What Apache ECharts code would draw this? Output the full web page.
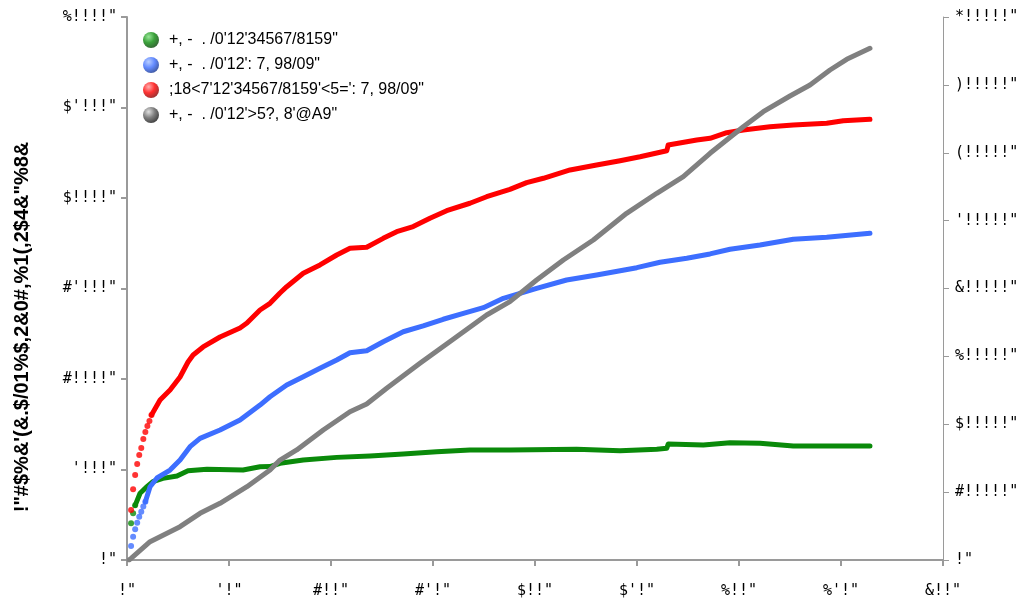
<!DOCTYPE html>
<html>
<head>
<meta charset="utf-8">
<title>chart</title>
<script src="https://cdn.jsdelivr.net/npm/echarts@6/dist/echarts.min.js"></script>
<style>
  html, body { margin: 0; padding: 0; background: #fff; }
  #chart { width: 1023px; height: 608px; }
</style>
</head>
<body>
<div id="chart"></div>
<script>
// series names, as shown in the picture
var seriesNames = [
    "+, -  . /0'12'34567/8159\"",
    "+, -  . /0'12': 7, 98/09\"",
    ";18<7'12'34567/8159'<5=': 7, 98/09\"",
    "+, -  . /0'12'>5?, 8'@A9\""
];
var yTitle = "!\"#$%&'(&.$/01%$,2&0#,%1(,2$4&\"%8&";

// tick labels
var xTickLabels = ['!"', "'!\"", '#!!"', "#'!\"", '$!!"', "$'!\"", '%!!"', "%'!\"", '&!!"'];
var yTickLabels = ['!"', "'!!!\"", '#!!!!"', "#'!!!\"", '$!!!!"', "$'!!!\"", '%!!!!"'];
var y2TickLabels = ['!"', '#!!!!!"', '$!!!!!"', '%!!!!!"', '&!!!!!"', "'!!!!!\"", '(!!!!!"', ')!!!!!"', '*!!!!!"'];

// green
var greenDots = [[2, 2030], [3, 2580], [4, 3020]];
var greenLine = [[4, 3020], [6.4, 3690], [9.8, 4050], [12.7, 4330], [17.6, 4510], [24.5, 4640], [29.9, 4930],
    [39.2, 5010], [56.9, 4970], [65.2, 5150], [70.1, 5160], [75, 5340], [86.4, 5520], [102.8, 5670],
    [119.1, 5750], [135.4, 5860], [151.8, 5980], [168.1, 6080], [187.7, 6080], [220.4, 6120],
    [241.7, 6040], [259.7, 6120], [264.6, 6170], [265.3, 6410], [282.5, 6350], [295.6, 6480],
    [310.3, 6450], [326.6, 6300], [364.2, 6300]];

// blue
var blueDots = [[2, 770], [3, 1290], [4, 1700], [5, 2060], [6, 2390], [7, 2670], [8, 2950], [9, 3220]];
var blueLine = [[9, 3220], [11.3, 4050], [14.7, 4530], [21.1, 4970], [26, 5520], [30.9, 6260], [35.8, 6720],
    [45.6, 7180], [55.4, 7740], [65.2, 8560], [70.1, 9020], [78.3, 9670], [86.4, 10130], [94.6, 10590],
    [102.8, 11050], [109.3, 11450], [117.5, 11560], [125.6, 12060], [135.4, 12610], [145.2, 12930],
    [155, 13300], [164.9, 13630], [174.7, 13940], [184.5, 14460], [200.8, 15010], [215.5, 15470],
    [230.2, 15750], [249.9, 16150], [261.3, 16450], [274.4, 16670], [285.8, 16910], [295.6, 17170],
    [310.3, 17400], [326.6, 17720], [343, 17830], [364.2, 18050]];

// red
var redDots = [[2, 2760], [3, 3910], [4, 4700], [5, 5300], [6, 5800], [7, 6190], [8, 6690], [9, 7070],
    [10, 7400], [11, 7680], [12, 8010]];
var redLine = [[12, 8010], [16.2, 8840], [21.1, 9390], [26, 10110], [29.9, 10940], [32.4, 11330], [37.3, 11770],
    [45.6, 12320], [55.4, 12820], [58.8, 13090], [65.2, 13810], [70.1, 14180], [75, 14750], [78.3, 15100],
    [86.4, 15840], [94.6, 16300], [102.8, 16850], [109.3, 17220], [117.5, 17280], [125.6, 17770],
    [132.2, 18140], [140.3, 18420], [148.5, 18880], [156.7, 19300], [168.1, 19710], [176.3, 20070],
    [187.7, 20480], [195.9, 20850], [204.1, 21090], [217.2, 21550], [230.2, 21820], [241.7, 22060],
    [251.5, 22280], [264.6, 22610], [265.3, 22930], [279.3, 23200], [285.8, 23300], [294, 23610],
    [302.1, 23760], [315.2, 23940], [326.6, 24030], [343, 24130], [351.1, 24270], [364.2, 24350]];

// gray (right axis)
var grayLine = [[1, 0], [2, 2500], [11.3, 26960], [26, 49060], [35.8, 68800], [45.6, 83530], [58.8, 108000],
    [70.1, 132600], [75, 147300], [83.2, 162100], [96.2, 191500], [109.3, 218500], [117.5, 229800],
    [127.3, 253000], [143.6, 289800], [159.9, 325200], [176.3, 361000], [187.7, 380600], [200.8, 412500],
    [213.9, 442000], [228.6, 471500], [244.9, 510800], [259.7, 540300], [272.7, 564700], [285.8, 599200],
    [302.1, 638400], [311.9, 660500], [325, 683600], [334.8, 699800], [344.6, 721900], [352.8, 737700],
    [364.2, 753900]];

var colors = ['#0a8a0a', '#3d6eff', '#ff0000', '#808080'];
var ballColors = [
    ['#7fe07f', '#0a8a0a', '#034003'],
    ['#a9c3ff', '#3d6eff', '#10308a'],
    ['#ff9a9a', '#ff0000', '#800000'],
    ['#e0e0e0', '#808080', '#404040']
];

var chart = echarts.init(document.getElementById('chart'));

function ball(c) {
    return {
        type: 'radial', x: 0.35, y: 0.3, r: 0.75,
        colorStops: [{ offset: 0, color: c[0] }, { offset: 0.5, color: c[1] }, { offset: 1, color: c[2] }]
    };
}

var monoLabel = { color: '#000', fontSize: 15, fontFamily: 'DejaVu Sans Mono' };
var axisGray = { color: '#9a9a9a', width: 2 };

function lineSeries(name, data, color, axis, z) {
    return {
        name: name, type: 'line', data: data, yAxisIndex: axis, showSymbol: false,
        lineStyle: { color: color, width: 5, cap: 'round', join: 'round' },
        itemStyle: { color: color }, z: z
    };
}

var series = [];
var pairs = [[greenDots, greenLine], [blueDots, blueLine], [redDots, redLine]];
pairs.forEach(function (p, i) {
    series.push({
        name: seriesNames[i], type: 'scatter', data: p[0], symbolSize: 6,
        itemStyle: { color: colors[i] }, z: 2 + i
    });
    series.push(lineSeries(seriesNames[i], p[1], colors[i], 0, 2 + i));
});
series.push(lineSeries(seriesNames[3], grayLine, colors[3], 1, 6));

chart.setOption({
    animation: false,
    backgroundColor: '#fff',
    grid: { left: 127, right: 80, top: 17, bottom: 48 },
    legend: {
        orient: 'vertical', left: 138, top: 27,
        itemWidth: 16, itemHeight: 16, itemGap: 9,
        icon: 'circle',
        textStyle: { color: '#000', fontSize: 16, fontFamily: 'Liberation Sans', padding: [0, 0, 0, 5] },
        data: seriesNames.map(function (n, i) {
            return { name: n, icon: 'circle', itemStyle: { color: ball(ballColors[i]) } };
        })
    },
    graphic: [{
        type: 'text', x: 22, y: 327, rotation: Math.PI / 2,
        style: {
            text: yTitle, textAlign: 'center', textVerticalAlign: 'middle',
            font: 'bold 20px "Liberation Sans"', fill: '#000'
        }
    }],
    xAxis: {
        type: 'value', min: 0, max: 400, interval: 50,
        axisLine: { lineStyle: axisGray },
        axisTick: { show: true, length: 6, lineStyle: axisGray },
        splitLine: { show: false },
        axisLabel: Object.assign({ margin: 24, formatter: function (v) { return xTickLabels[Math.round(v / 50)]; } }, monoLabel)
    },
    yAxis: [{
        type: 'value', min: 0, max: 30000, interval: 5000,
        axisLine: { show: true, lineStyle: axisGray },
        axisTick: { show: true, length: 6, lineStyle: axisGray },
        splitLine: { show: false },
        axisLabel: Object.assign({ margin: 10, formatter: function (v) { return yTickLabels[Math.round(v / 5000)]; } }, monoLabel)
    }, {
        type: 'value', min: 0, max: 800000, interval: 100000, position: 'right',
        axisLine: { show: true, lineStyle: { color: '#9a9a9a', width: 1 } },
        axisTick: { show: true, length: 6, lineStyle: { color: '#9a9a9a', width: 1 } },
        splitLine: { show: false },
        axisLabel: Object.assign({ margin: 12, formatter: function (v) { return y2TickLabels[Math.round(v / 100000)]; } }, monoLabel)
    }],
    series: series
});
</script>
</body>
</html>
